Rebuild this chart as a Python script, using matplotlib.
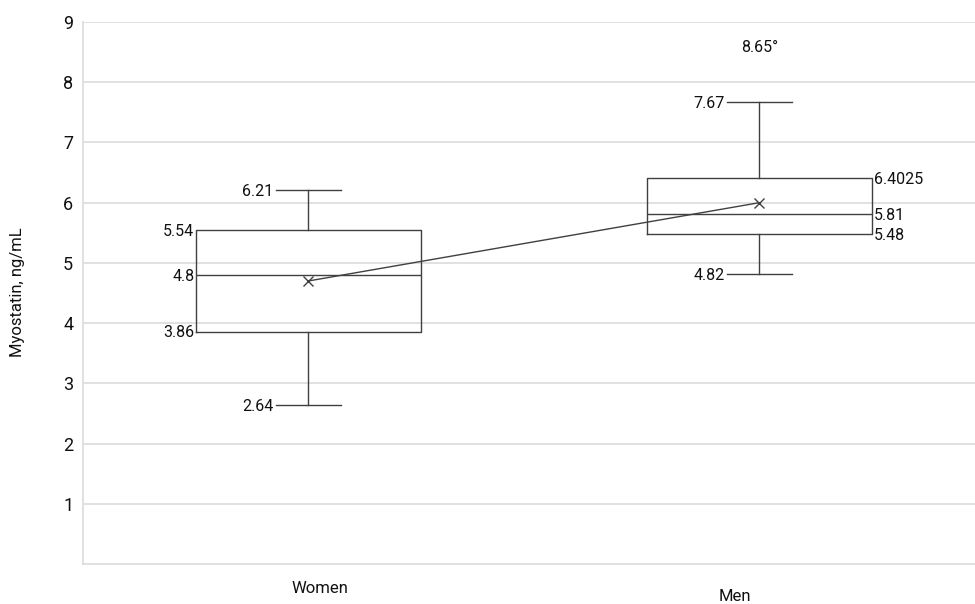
import matplotlib
matplotlib.use("Agg")
import matplotlib.pyplot as plt

plt.rcParams["font.family"] = ["Roboto", "DejaVu Sans"]

groups = ["Women", "Men"]
whisk_lo = [2.64, 4.82]
q1 = [3.86, 5.48]
medians = [4.8, 5.81]
q3 = [5.54, 6.4025]
whisk_hi = [6.21, 7.67]
means = [4.7, 6.0]
outlier_men = 8.65

positions = [0.5, 1.5]
box_w = 0.497
cap_w = 0.146
ink = "#404040"
grid_c = "#dcdcdc"

stats = []
for i, g in enumerate(groups):
    stats.append(dict(label=g, whislo=whisk_lo[i], q1=q1[i], med=medians[i],
                      q3=q3[i], whishi=whisk_hi[i], fliers=[]))

fig = plt.figure(figsize=(9.75, 6.04), dpi=100)
ax = fig.add_axes([83 / 975, 1 - 564 / 604, 1 - 83 / 975, (564 - 22) / 604])

ax.bxp(stats, positions=positions, widths=box_w, capwidths=cap_w, showfliers=False,
       boxprops=dict(color=ink, linewidth=1.0),
       medianprops=dict(color=ink, linewidth=1.0),
       whiskerprops=dict(color=ink, linewidth=1.0),
       capprops=dict(color=ink, linewidth=1.0),
       manage_ticks=False, zorder=3)

# line through the means
ax.plot(positions, means, color=ink, linewidth=1.0, marker="x", markersize=7,
        markeredgewidth=1.0, zorder=4)

ax.set_xlim(0, 1.978)
ax.set_ylim(0, 9)
ax.set_yticks(range(1, 10))
ax.set_xticks([])
ax.tick_params(axis="y", length=0, pad=7, labelsize=13, labelcolor="#111111")
ax.yaxis.grid(True, color=grid_c, linewidth=1.2)
ax.set_axisbelow(True)
for s in ["top", "right"]:
    ax.spines[s].set_visible(False)
for s in ["left", "bottom"]:
    ax.spines[s].set_color(grid_c)
    ax.spines[s].set_linewidth(1.2)

fig.text(18 / 975, 1 - 292 / 604, "Myostatin, ng/mL", rotation=90, ha="center",
         va="center", fontsize=12, color="#111111")

# category labels
ax.text(0.525, -0.045, groups[0], transform=ax.get_xaxis_transform(), ha="center",
        va="center", fontsize=12, color="#111111")
ax.text(1.445, -0.060, groups[1], transform=ax.get_xaxis_transform(), ha="center",
        va="center", fontsize=12, color="#111111")

fs = 11.5
def lab(x, y, txt, side):
    if side == "left":
        ax.annotate(txt, (x, y), xytext=(-1.5, -1), textcoords="offset points",
                    ha="right", va="center", fontsize=fs, color="#111111")
    else:
        ax.annotate(txt, (x, y), xytext=(1.5, -1), textcoords="offset points",
                    ha="left", va="center", fontsize=fs, color="#111111")

# women
p = positions[0]
lab(p - cap_w / 2, whisk_hi[0], "6.21", "left")
lab(p - box_w / 2, q3[0], "5.54", "left")
lab(p - box_w / 2, medians[0], "4.8", "left")
lab(p - box_w / 2, q1[0], "3.86", "left")
lab(p - cap_w / 2, whisk_lo[0], "2.64", "left")
# men
p = positions[1]
lab(p - cap_w / 2, whisk_hi[1], "7.67", "left")
lab(p - cap_w / 2, whisk_lo[1], "4.82", "left")
lab(p + box_w / 2, q3[1], "6.4025", "right")
lab(p + box_w / 2, medians[1], "5.81", "right")
lab(p + box_w / 2, q1[1], "5.48", "right")
ax.annotate(f"{outlier_men}°", (p, outlier_men), xytext=(0, -3), textcoords="offset points",
            ha="center", va="center", fontsize=fs, color="#111111")

fig.savefig("out.png", dpi=100)
